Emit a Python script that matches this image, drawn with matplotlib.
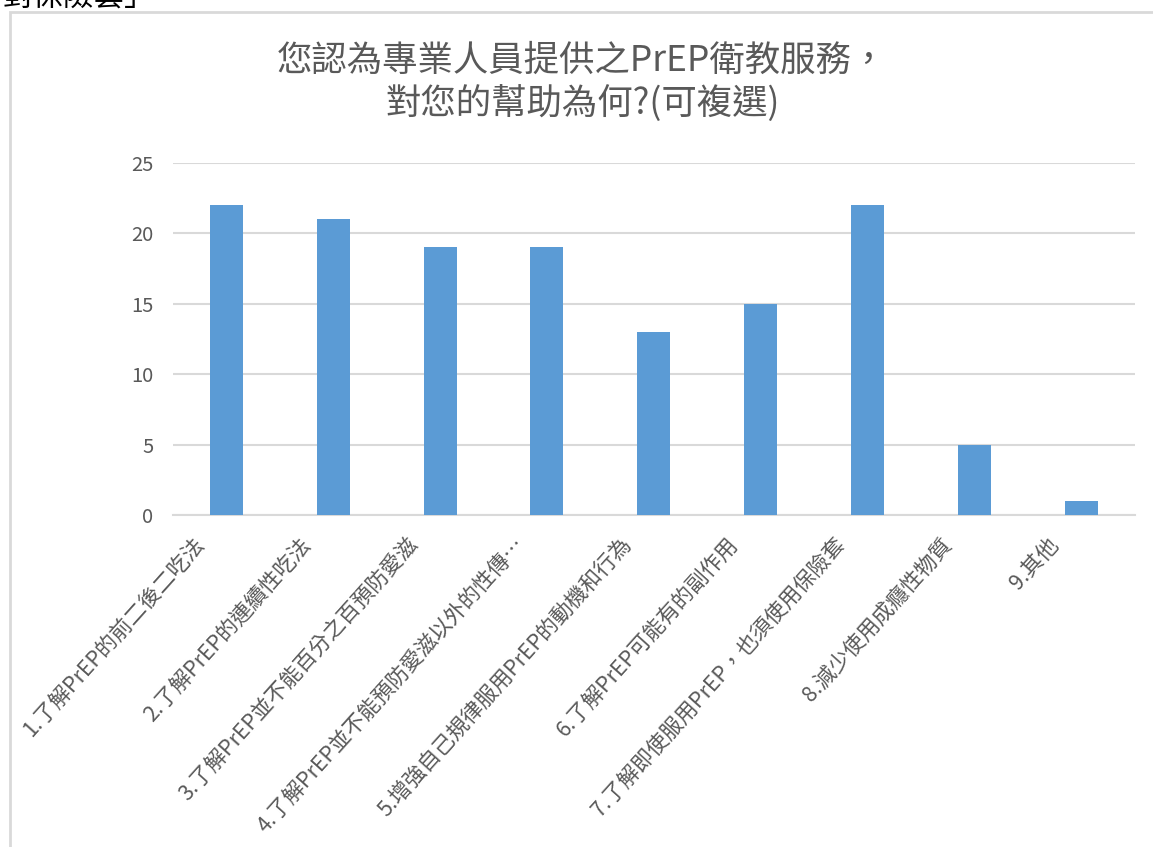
import matplotlib
matplotlib.use("Agg")
import matplotlib.pyplot as plt
import matplotlib.transforms as mtransforms
from matplotlib.patches import Rectangle
import numpy as np

plt.rcParams['font.family'] = ['Noto Sans CJK TC', 'DejaVu Sans']

# datos
categorias = [
    "1.了解PrEP的前二後二吃法",
    "2.了解PrEP的連續性吃法",
    "3.了解PrEP並不能百分之百預防愛滋",
    "4.了解PrEP並不能預防愛滋以外的性傳…",
    "5.增強自己規律服用PrEP的動機和行為",
    "6.了解PrEP可能有的副作用",
    "7.了解即使服用PrEP，也須使用保險套",
    "8.減少使用成癮性物質",
    "9.其他",
]
valores = [22, 21, 19, 19, 13, 15, 22, 5, 1]
yticks = [0, 5, 10, 15, 20, 25]
titulo = "您認為專業人員提供之PrEP衛教服務，\n對您的幫助為何?(可複選)"

gris = "#595959"
azul = "#5B9BD5"
lineas = "#D9D9D9"

fig = plt.figure(figsize=(11.53, 8.47), dpi=100)
ax = fig.add_axes([0.150, 0.392, 0.834, 0.416])

x = np.arange(len(categorias))
ax.bar(x, valores, width=0.31, color=azul, zorder=3)

ax.set_xlim(-0.5, len(categorias) - 0.5)
ax.set_ylim(0, 25)
ax.set_yticks(yticks)
ax.yaxis.grid(True, color=lineas, linewidth=1.5, zorder=0)
ax.tick_params(axis='y', length=0, labelsize=14.5, labelcolor=gris, pad=14)
ax.tick_params(axis='x', length=0, labelsize=15.5, labelcolor=gris, pad=12)
for lado in ['top', 'right', 'left']:
    ax.spines[lado].set_visible(False)
ax.spines['bottom'].set_color(lineas)
ax.spines['bottom'].set_linewidth(1.5)

ax.set_xticks(x)
ax.set_xticklabels(categorias, rotation=48, ha='right', rotation_mode='anchor')
desplazamiento = mtransforms.ScaledTranslation(-0.34, -0.02, fig.dpi_scale_trans)
for etiqueta in ax.get_xticklabels():
    etiqueta.set_transform(etiqueta.get_transform() + desplazamiento)

fig.text(0.505, 0.902, titulo, ha='center', va='center', fontsize=25.5,
         color=gris, linespacing=1.25)

# marco del grafico
fig.patches.append(Rectangle((10 / 1153, -0.05), 1.2, 1.05 - 12 / 847,
                             transform=fig.transFigure, fill=False,
                             edgecolor=lineas, linewidth=2))

# texto cortado arriba
fig.text(0.002, 1.003, "對保險套」", ha='left', va='center', fontsize=22,
         color='black')

fig.savefig("out.png", dpi=100)
